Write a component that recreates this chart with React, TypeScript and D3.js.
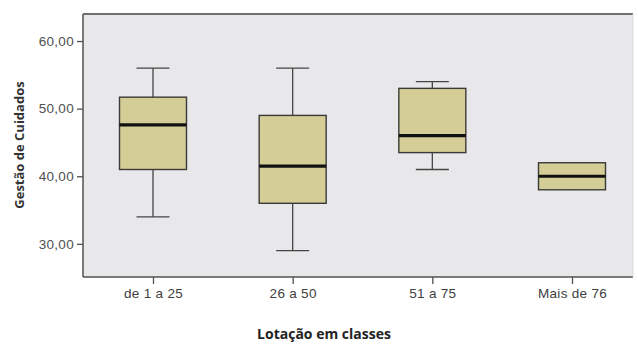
import React from 'react'
import * as d3 from 'd3'

// lotação em classes
const categories = ['de 1 a 25', '26 a 50', '51 a 75', 'Mais de 76']
// box stats
const whiskerLow = [34, 29, 41, 38]
const q1 = [41, 36, 43.5, 38]
const median = [47.6, 41.5, 46, 40]
const q3 = [51.7, 49, 53, 42]
const whiskerHigh = [56, 56, 54, 42]
const yTicks = [30, 40, 50, 60]

const width = 638
const height = 345
const plot = { left: 83, top: 14, right: 633, bottom: 277 }

export default function App() {
  const gRef = React.useRef<SVGGElement>(null)

  React.useEffect(() => {
    const g = d3.select(gRef.current)
    g.selectAll('*').remove()

    const x = d3.scalePoint<string>().domain(categories).range([153, 572])
    const y = d3.scaleLinear().domain([25.1, 64]).range([plot.bottom, plot.top])
    const fmt = (d: number) => d.toFixed(2).replace('.', ',')

    g.append('rect')
      .attr('x', plot.left).attr('y', plot.top)
      .attr('width', plot.right - plot.left).attr('height', plot.bottom - plot.top)
      .attr('fill', '#e8e8ea')

    // axis lines
    g.append('line').attr('x1', plot.left).attr('x2', plot.right)
      .attr('y1', plot.top).attr('y2', plot.top)
      .attr('stroke', '#707070').attr('stroke-width', 2)
    g.append('line').attr('x1', plot.left).attr('x2', plot.right)
      .attr('y1', plot.bottom).attr('y2', plot.bottom)
      .attr('stroke', '#505050').attr('stroke-width', 1.5)
    g.append('line').attr('x1', plot.left).attr('x2', plot.left)
      .attr('y1', plot.top).attr('y2', plot.bottom)
      .attr('stroke', '#505050').attr('stroke-width', 1.5)
    g.append('line').attr('x1', plot.right).attr('x2', plot.right)
      .attr('y1', plot.top).attr('y2', plot.bottom)
      .attr('stroke', '#dcdcdc').attr('stroke-width', 1)

    const yAxis = g.append('g')
      .attr('transform', `translate(${plot.left},0)`)
      .call(d3.axisLeft(y).tickValues(yTicks).tickFormat(d => fmt(+d)).tickSize(6).tickPadding(3))
    yAxis.select('.domain').remove()
    yAxis.selectAll('line').attr('stroke', '#505050').attr('stroke-width', 1.3)
    yAxis.selectAll('text')
      .attr('fill', '#505050').style('font-family', 'Arial, "Liberation Sans", sans-serif')
      .style('font-size', '13.5px').style('letter-spacing', '0.3px')

    const xAxis = g.append('g')
      .attr('transform', `translate(0,${plot.bottom})`)
      .call(d3.axisBottom(x).tickSize(7).tickPadding(4))
    xAxis.select('.domain').remove()
    xAxis.selectAll('line').attr('stroke', '#505050').attr('stroke-width', 1.3)
    xAxis.selectAll('text')
      .attr('fill', '#404040').style('font-family', 'Arial, "Liberation Sans", sans-serif')
      .style('font-size', '13.5px').style('letter-spacing', '0.3px')

    const boxW = 67
    const capW = 33
    const boxes = g.selectAll('g.box').data(categories).enter().append('g').attr('class', 'box')

    boxes.append('line')
      .attr('x1', d => x(d)!).attr('x2', d => x(d)!)
      .attr('y1', (d, i) => y(whiskerHigh[i])).attr('y2', (d, i) => y(whiskerLow[i]))
      .attr('stroke', '#444').attr('stroke-width', 1.3)
    boxes.filter((d, i) => whiskerHigh[i] > q3[i]).append('line')
      .attr('x1', d => x(d)! - capW / 2).attr('x2', d => x(d)! + capW / 2)
      .attr('y1', d => y(whiskerHigh[categories.indexOf(d)]))
      .attr('y2', d => y(whiskerHigh[categories.indexOf(d)]))
      .attr('stroke', '#444').attr('stroke-width', 1.3)
    boxes.filter((d, i) => whiskerLow[i] < q1[i]).append('line')
      .attr('x1', d => x(d)! - capW / 2).attr('x2', d => x(d)! + capW / 2)
      .attr('y1', d => y(whiskerLow[categories.indexOf(d)]))
      .attr('y2', d => y(whiskerLow[categories.indexOf(d)]))
      .attr('stroke', '#444').attr('stroke-width', 1.3)
    boxes.append('rect')
      .attr('x', d => x(d)! - boxW / 2).attr('width', boxW)
      .attr('y', (d, i) => y(q3[i])).attr('height', (d, i) => y(q1[i]) - y(q3[i]))
      .attr('fill', '#d4cd96').attr('stroke', '#3a3a3a').attr('stroke-width', 1.4)
    boxes.append('line')
      .attr('x1', d => x(d)! - boxW / 2).attr('x2', d => x(d)! + boxW / 2)
      .attr('y1', (d, i) => y(median[i])).attr('y2', (d, i) => y(median[i]))
      .attr('stroke', '#111').attr('stroke-width', 3.2)

    g.append('text')
      .attr('transform', `translate(24,145) rotate(-90)`)
      .attr('text-anchor', 'middle')
      .style('font-family', '"Open Sans", "DejaVu Sans", sans-serif')
      .style('font-size', '13px').style('font-weight', 'bold')
      .attr('fill', '#333')
      .text('Gestão de Cuidados')

    g.append('text')
      .attr('x', 324).attr('y', 339)
      .attr('text-anchor', 'middle')
      .style('font-family', '"Open Sans", "DejaVu Sans", sans-serif')
      .style('font-size', '14px').style('font-weight', 'bold')
      .attr('fill', '#222')
      .text('Lotação em classes')
  }, [])

  return (
    <svg width={width} height={height} style={{ position: 'absolute', left: 0, top: 0, background: '#fff' }}>
      <g ref={gRef} />
    </svg>
  )
}
